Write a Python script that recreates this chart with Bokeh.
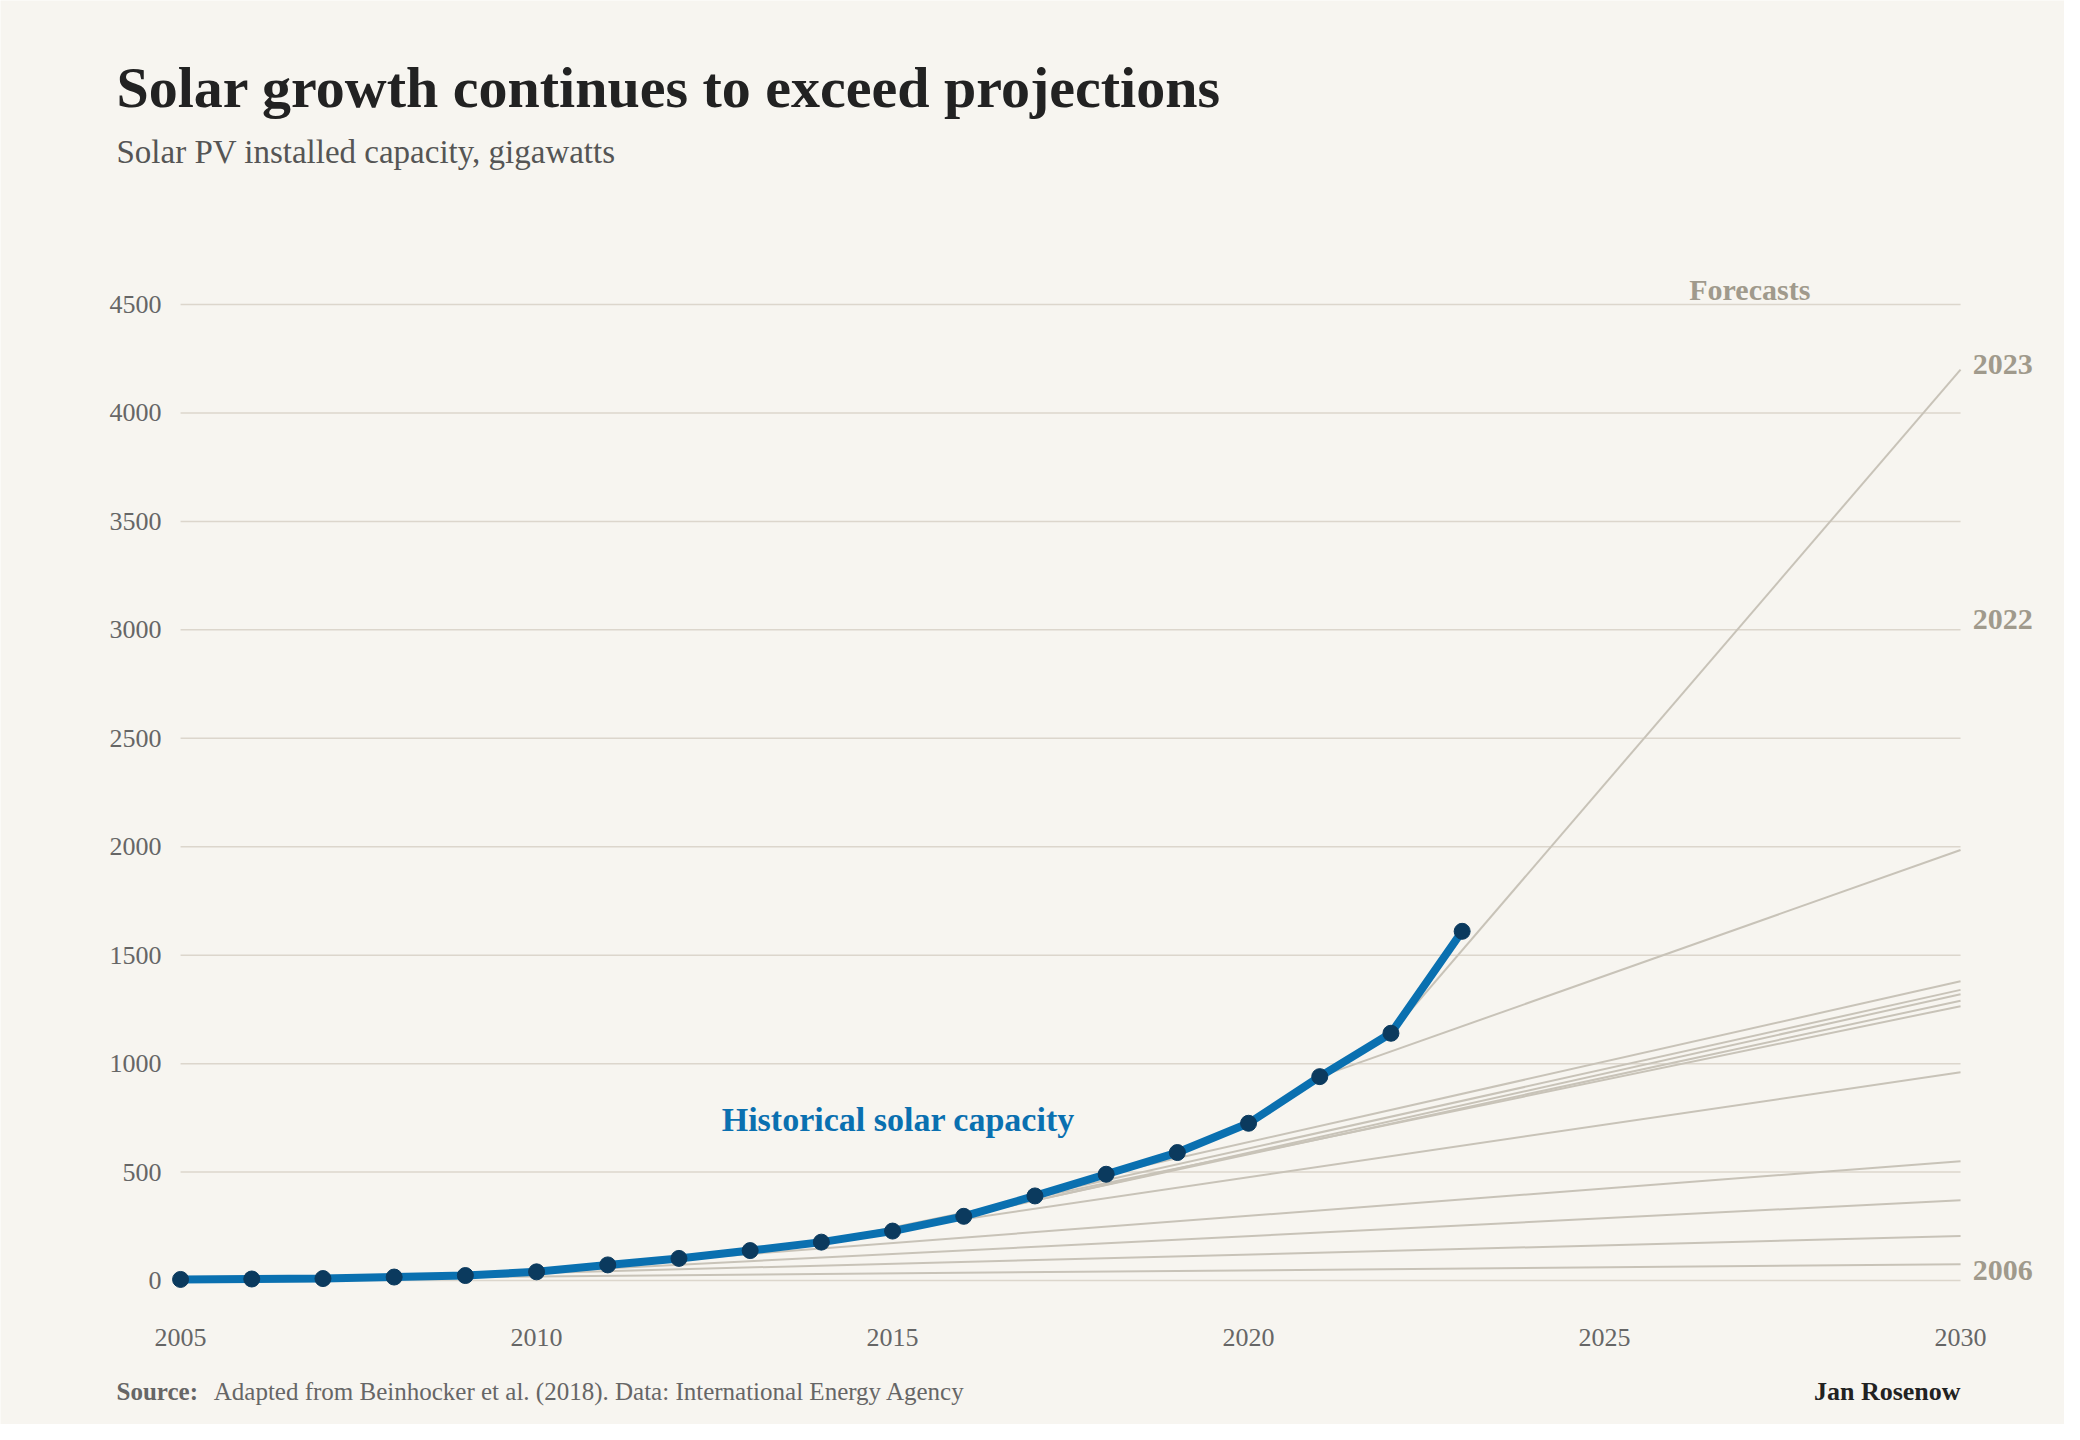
from bokeh.plotting import figure
from bokeh.models import Range1d
from bokeh.core.properties import value
from bokeh.embed import file_html
from bokeh.resources import INLINE

years = list(range(2005, 2024))
capacity = [5, 7, 9, 16, 23, 40, 72, 102, 138, 177, 228, 296, 390, 490, 590, 725, 940, 1140, 1610]

forecast_years = [2006, 2008, 2010, 2012, 2014, 2015, 2016, 2017, 2018, 2019, 2022, 2023]
forecast_2030 = [75, 205, 370, 550, 960, 1265, 1290, 1320, 1340, 1380, 1985, 4200]

yticks = [0, 500, 1000, 1500, 2000, 2500, 3000, 3500, 4000, 4500]
xticks = [2005, 2010, 2015, 2020, 2025, 2030]

BG = "#f7f5f0"
SERIF = "Liberation Serif"

p = figure(width=2064, height=1424, output_backend="svg", toolbar_location=None,
           x_range=Range1d(2002.471, 2031.460), y_range=Range1d(-663.8, 5901.5),
           x_axis_type=None, y_axis_type=None,
           min_border_left=0, min_border_right=0, min_border_top=0, min_border_bottom=0)
p.background_fill_color = BG
p.border_fill_color = BG
p.outline_line_color = None
p.grid.visible = False

p.segment(x0=[2005]*len(yticks), x1=[2030]*len(yticks), y0=yticks, y1=yticks,
          line_color="#dcd6cc", line_width=1.5)

px_per_year = 71.2
p.text(x=[2005 - 19/px_per_year]*len(yticks), y=yticks, text=[str(t) for t in yticks],
       text_font=value(SERIF), text_font_size="26px", text_color="#666666",
       text_align="right", text_baseline="middle")
p.text(x=xticks, y=[-262]*len(xticks), text=[str(t) for t in xticks],
       text_font=value(SERIF), text_font_size="26px", text_color="#666666",
       text_align="center", text_baseline="alphabetic")

for fy, v in zip(forecast_years, forecast_2030):
    sy = fy - 1
    sv = capacity[years.index(sy)]
    p.line([sy, 2030], [sv, v], line_color="#c8c3b8", line_width=2)

p.line(years, capacity, line_color="#0a70b0", line_width=8)
p.scatter(years, capacity, size=16, fill_color="#0b3a5e", line_color="#0b3a5e")

def lab(x, y, t, size, color, bold=False, align="left"):
    p.text(x=[x], y=[y], text=[t], text_font=value(SERIF), text_font_size=size,
           text_color=color, text_font_style="bold" if bold else "normal",
           text_align=align, text_baseline="alphabetic")

lab(2004.1, 5500, "Solar growth continues to exceed projections", "58px", "#222222", True)
lab(2004.1, 5203, "Solar PV installed capacity, gigawatts", "33px", "#555555")
lab(2027.04, 4567, "Forecasts", "30px", "#a09a8c", True, "center")
lab(2030.17, 4221, "2023", "30px", "#a09a8c", True)
lab(2030.17, 3046, "2022", "30px", "#a09a8c", True)
lab(2030.17, 44, "2006", "30px", "#a09a8c", True)
lab(2012.6, 741, "Historical solar capacity", "34px", "#0a70b0", True)
lab(2004.1, -513, "Source:", "25px", "#666666", True)
lab(2005.466, -513, "Adapted from Beinhocker et al. (2018). Data: International Energy Agency", "25px", "#666666")
lab(2030, -513, "Jan Rosenow", "26px", "#222222", True, "right")

open("out.html", "w").write(file_html(p, INLINE))
